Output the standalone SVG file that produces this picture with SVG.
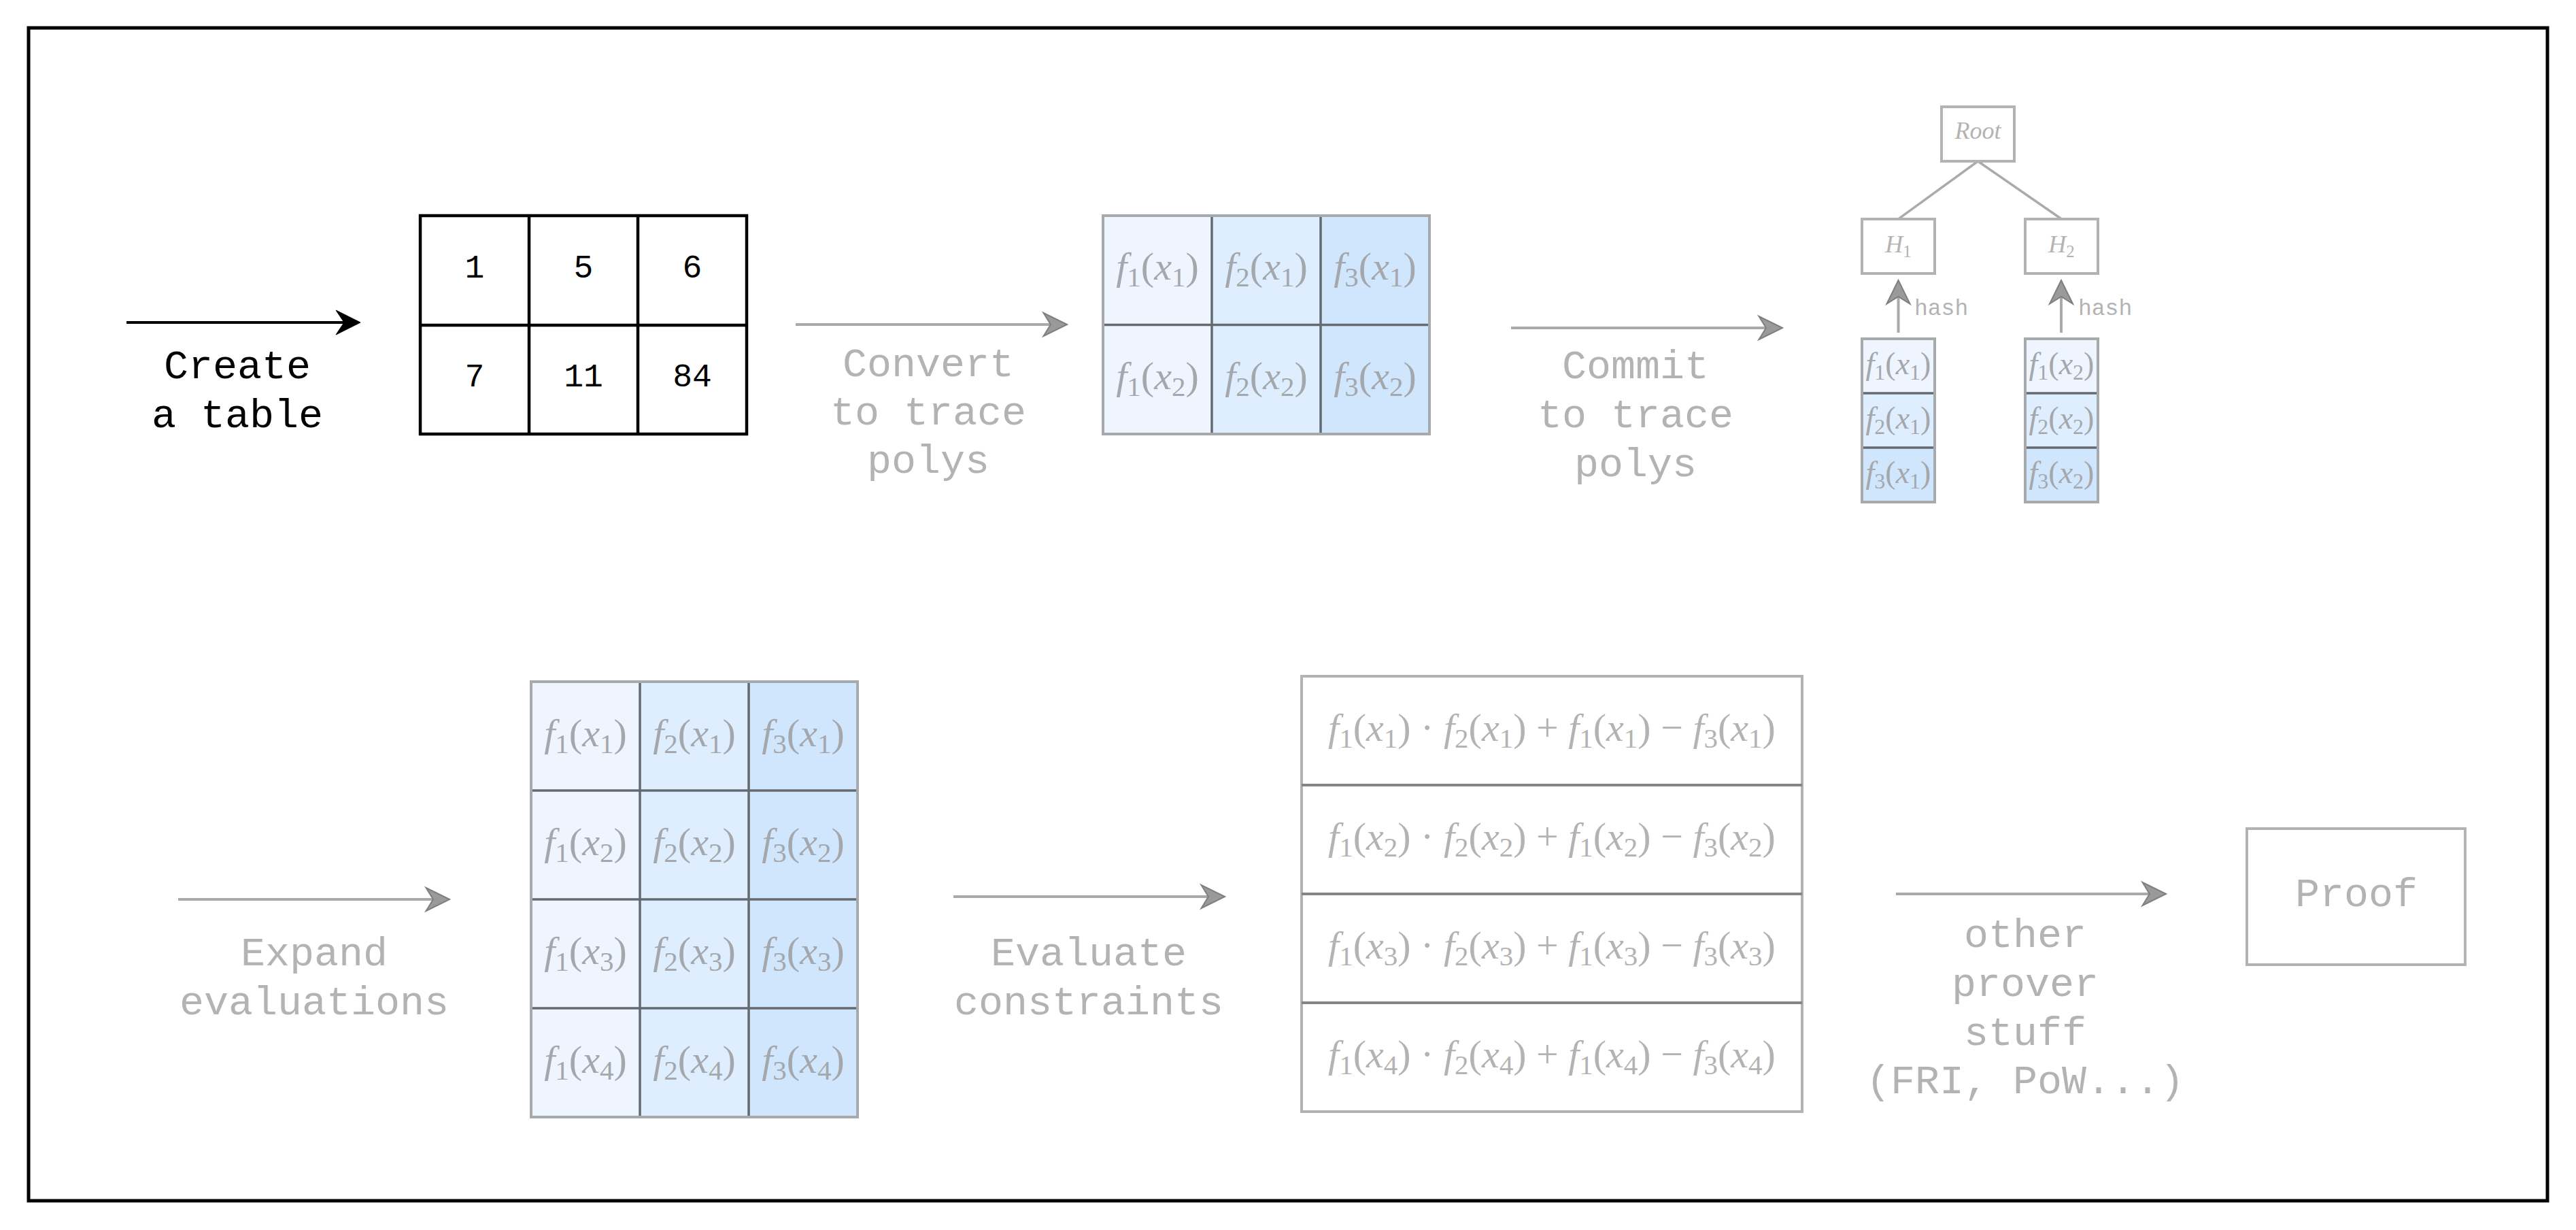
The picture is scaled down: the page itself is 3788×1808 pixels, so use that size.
<svg xmlns="http://www.w3.org/2000/svg" width="3788" height="1808" viewBox="0 0 3788 1808">
  <defs>
    <style>
      .frame { fill: none; stroke: #000; stroke-width: 5; }
      .lbl { font-family: "Liberation Mono", "Courier New", monospace; font-size: 60px; fill: #b3b3b3; text-anchor: middle; }
      .lbl.dark { fill: #000; }
      .num { font-family: "Liberation Mono", "Courier New", monospace; font-size: 48px; fill: #000; text-anchor: middle; }
      .small { font-family: "Liberation Mono", "Courier New", monospace; font-size: 33px; fill: #b3b3b3; }
      .m { font-family: "Liberation Serif", "Times New Roman", serif; font-size: 58px; fill: #a4a7ab; text-anchor: middle; }
      .m.c { fill: #b3b3b3; }
      .m.leaf { font-size: 46px; }
      .m.node { font-size: 36px; fill: #b3b3b3; }
      .i { font-style: italic; }
      .sb { font-size: 41px; }
      .leaf .sb { font-size: 32px; }
      .node .sb { font-size: 25px; }
      .blk { fill: none; stroke: #000; stroke-width: 4.5; }
      .tbl { fill: none; stroke: #a7aaad; stroke-width: 4; }
      .grid { fill: none; stroke: #646a70; stroke-width: 3.5; }
      .box { fill: #fff; stroke: #b3b3b3; stroke-width: 4; }
      .div { fill: none; stroke: #858585; stroke-width: 4; }
      .c1 { fill: #eef5ff; }
      .c2 { fill: #dfeefe; }
      .c3 { fill: #d0e6fd; }
      .edge { fill: none; stroke: #aaaaaa; stroke-width: 4; }
      .edge.dark { stroke: #000; }
      .tree { fill: none; stroke: #aaaaaa; stroke-width: 3.5; }
    </style>
    <marker id="arrow-grey" markerUnits="userSpaceOnUse" viewBox="-14 -20 42 40" markerWidth="42" markerHeight="40" refX="0" refY="0" orient="auto">
      <path d="M24,0 L-10.5,-17 L0,0 L-10.5,17 Z" fill="#9a9a9a" stroke="#7f7f7f" stroke-width="2" stroke-linejoin="miter"/>
    </marker>
    <marker id="arrow-black" markerUnits="userSpaceOnUse" viewBox="-14 -20 42 40" markerWidth="42" markerHeight="40" refX="0" refY="0" orient="auto">
      <path d="M24,0 L-12,-18 L0,0 L-12,18 Z" fill="#000" stroke="#000" stroke-width="1"/>
    </marker>
  </defs>

  <rect width="3788" height="1808" fill="#fff"/>

  <!-- outer frame -->
  <g id="frame">
    <rect class="frame" x="42" y="41" width="3704" height="1724"/>
  </g>

  <!-- connectors -->
  <g id="connectors">
    <line class="edge dark" x1="186" y1="474" x2="506" y2="474" marker-end="url(#arrow-black)"/>
    <line class="edge" x1="1170" y1="477" x2="1545" y2="477" marker-end="url(#arrow-grey)"/>
    <line class="edge" x1="2222" y1="482" x2="2597" y2="482" marker-end="url(#arrow-grey)"/>
    <line class="edge" x1="262" y1="1322" x2="637" y2="1322" marker-end="url(#arrow-grey)"/>
    <line class="edge" x1="1402" y1="1318" x2="1777" y2="1318" marker-end="url(#arrow-grey)"/>
    <line class="edge" x1="2788" y1="1314" x2="3161" y2="1314" marker-end="url(#arrow-grey)"/>
    <!-- merkle tree -->
    <line class="tree" x1="2908.5" y1="237" x2="2791.5" y2="322"/>
    <line class="tree" x1="2908.5" y1="237" x2="3031.5" y2="322"/>
    <line class="edge" x1="2791.5" y1="489" x2="2791.5" y2="436" marker-end="url(#arrow-grey)"/>
    <line class="edge" x1="3031" y1="489" x2="3031" y2="436" marker-end="url(#arrow-grey)"/>
  </g>

  <!-- step labels -->
  <g id="edge-labels">
    <text class="lbl dark" x="349" y="556">Create</text>
    <text class="lbl dark" x="349" y="628">a table</text>
    <text class="lbl" x="1365" y="553">Convert</text>
    <text class="lbl" x="1365" y="624">to trace</text>
    <text class="lbl" x="1365" y="695">polys</text>
    <text class="lbl" x="2405" y="556">Commit</text>
    <text class="lbl" x="2405" y="628">to trace</text>
    <text class="lbl" x="2405" y="700">polys</text>
    <text class="small" x="2815" y="463">hash</text>
    <text class="small" x="3056" y="463">hash</text>
    <text class="lbl" x="462" y="1419">Expand</text>
    <text class="lbl" x="462" y="1491">evaluations</text>
    <text class="lbl" x="1601" y="1419">Evaluate</text>
    <text class="lbl" x="1601" y="1491">constraints</text>
    <text class="lbl" x="2978" y="1392">other</text>
    <text class="lbl" x="2978" y="1464">prover</text>
    <text class="lbl" x="2978" y="1536">stuff</text>
    <text class="lbl" x="2978" y="1607">(FRI, PoW...)</text>
  </g>

  <!-- raw value table -->
  <g id="value-table">
    <rect class="blk" x="618" y="317" width="480" height="321"/>
    <line class="blk" x1="778" y1="317" x2="778" y2="638"/>
    <line class="blk" x1="938" y1="317" x2="938" y2="638"/>
    <line class="blk" x1="618" y1="478" x2="1098" y2="478"/>
    <text class="num" x="698" y="408">1</text>
    <text class="num" x="858" y="408">5</text>
    <text class="num" x="1018" y="408">6</text>
    <text class="num" x="698" y="568">7</text>
    <text class="num" x="858" y="568">11</text>
    <text class="num" x="1018" y="568">84</text>
  </g>

  <!-- trace polynomial table -->
  <g id="trace-table">
    <rect class="c1" x="1622" y="317" width="160" height="321"/>
    <rect class="c2" x="1782" y="317" width="160" height="321"/>
    <rect class="c3" x="1942" y="317" width="160" height="321"/>
    <line class="grid" x1="1782" y1="317" x2="1782" y2="638"/>
    <line class="grid" x1="1942" y1="317" x2="1942" y2="638"/>
    <line class="grid" x1="1622" y1="477.5" x2="2102" y2="477.5"/>
    <rect class="tbl" x="1622" y="317" width="480" height="321"/>
    <text class="m" x="1702" y="411"><tspan class="i">f</tspan><tspan class="sb" dy="10">1</tspan><tspan dy="-10">(</tspan><tspan class="i">x</tspan><tspan class="sb" dy="10">1</tspan><tspan dy="-10">)</tspan></text>
    <text class="m" x="1862" y="411"><tspan class="i">f</tspan><tspan class="sb" dy="10">2</tspan><tspan dy="-10">(</tspan><tspan class="i">x</tspan><tspan class="sb" dy="10">1</tspan><tspan dy="-10">)</tspan></text>
    <text class="m" x="2022" y="411"><tspan class="i">f</tspan><tspan class="sb" dy="10">3</tspan><tspan dy="-10">(</tspan><tspan class="i">x</tspan><tspan class="sb" dy="10">1</tspan><tspan dy="-10">)</tspan></text>
    <text class="m" x="1702" y="572"><tspan class="i">f</tspan><tspan class="sb" dy="10">1</tspan><tspan dy="-10">(</tspan><tspan class="i">x</tspan><tspan class="sb" dy="10">2</tspan><tspan dy="-10">)</tspan></text>
    <text class="m" x="1862" y="572"><tspan class="i">f</tspan><tspan class="sb" dy="10">2</tspan><tspan dy="-10">(</tspan><tspan class="i">x</tspan><tspan class="sb" dy="10">2</tspan><tspan dy="-10">)</tspan></text>
    <text class="m" x="2022" y="572"><tspan class="i">f</tspan><tspan class="sb" dy="10">3</tspan><tspan dy="-10">(</tspan><tspan class="i">x</tspan><tspan class="sb" dy="10">2</tspan><tspan dy="-10">)</tspan></text>
  </g>

  <!-- merkle root and inner hashes -->
  <g id="merkle-root">
    <rect class="box" x="2855" y="157" width="107" height="80"/>
    <text class="m node i" x="2908.5" y="204" font-size="34">Root</text>
  </g>
  <g id="hash-1">
    <rect class="box" x="2738" y="322" width="107" height="80"/>
    <text class="m node" x="2791.5" y="371"><tspan class="i">H</tspan><tspan class="sb" dy="7">1</tspan></text>
  </g>
  <g id="hash-2">
    <rect class="box" x="2978" y="322" width="107" height="80"/>
    <text class="m node" x="3031.5" y="371"><tspan class="i">H</tspan><tspan class="sb" dy="7">2</tspan></text>
  </g>

  <!-- merkle leaves: one row of the trace each -->
  <g id="leaf-1">
    <rect class="c1" x="2738" y="498" width="107" height="80"/>
    <rect class="c2" x="2738" y="578" width="107" height="80"/>
    <rect class="c3" x="2738" y="658" width="107" height="80"/>
    <line class="grid" x1="2738" y1="578" x2="2845" y2="578"/>
    <line class="grid" x1="2738" y1="658" x2="2845" y2="658"/>
    <rect class="tbl" x="2738" y="498" width="107" height="240"/>
    <text class="m leaf" x="2791.5" y="549.5"><tspan class="i">f</tspan><tspan class="sb" dy="8">1</tspan><tspan dy="-8">(</tspan><tspan class="i">x</tspan><tspan class="sb" dy="8">1</tspan><tspan dy="-8">)</tspan></text>
    <text class="m leaf" x="2791.5" y="629.5"><tspan class="i">f</tspan><tspan class="sb" dy="8">2</tspan><tspan dy="-8">(</tspan><tspan class="i">x</tspan><tspan class="sb" dy="8">1</tspan><tspan dy="-8">)</tspan></text>
    <text class="m leaf" x="2791.5" y="709.5"><tspan class="i">f</tspan><tspan class="sb" dy="8">3</tspan><tspan dy="-8">(</tspan><tspan class="i">x</tspan><tspan class="sb" dy="8">1</tspan><tspan dy="-8">)</tspan></text>
  </g>
  <g id="leaf-2">
    <rect class="c1" x="2978" y="498" width="107" height="80"/>
    <rect class="c2" x="2978" y="578" width="107" height="80"/>
    <rect class="c3" x="2978" y="658" width="107" height="80"/>
    <line class="grid" x1="2978" y1="578" x2="3085" y2="578"/>
    <line class="grid" x1="2978" y1="658" x2="3085" y2="658"/>
    <rect class="tbl" x="2978" y="498" width="107" height="240"/>
    <text class="m leaf" x="3031.5" y="549.5"><tspan class="i">f</tspan><tspan class="sb" dy="8">1</tspan><tspan dy="-8">(</tspan><tspan class="i">x</tspan><tspan class="sb" dy="8">2</tspan><tspan dy="-8">)</tspan></text>
    <text class="m leaf" x="3031.5" y="629.5"><tspan class="i">f</tspan><tspan class="sb" dy="8">2</tspan><tspan dy="-8">(</tspan><tspan class="i">x</tspan><tspan class="sb" dy="8">2</tspan><tspan dy="-8">)</tspan></text>
    <text class="m leaf" x="3031.5" y="709.5"><tspan class="i">f</tspan><tspan class="sb" dy="8">3</tspan><tspan dy="-8">(</tspan><tspan class="i">x</tspan><tspan class="sb" dy="8">2</tspan><tspan dy="-8">)</tspan></text>
  </g>

  <!-- low-degree extended evaluations -->
  <g id="extended-table">
    <rect class="c1" x="781" y="1002" width="160" height="640"/>
    <rect class="c2" x="941" y="1002" width="160" height="640"/>
    <rect class="c3" x="1101" y="1002" width="160" height="640"/>
    <line class="grid" x1="941" y1="1002" x2="941" y2="1642"/>
    <line class="grid" x1="1101" y1="1002" x2="1101" y2="1642"/>
    <line class="grid" x1="781" y1="1162" x2="1261" y2="1162"/>
    <line class="grid" x1="781" y1="1322" x2="1261" y2="1322"/>
    <line class="grid" x1="781" y1="1482" x2="1261" y2="1482"/>
    <rect class="tbl" x="781" y="1002" width="480" height="640"/>
    <text class="m" x="861" y="1096.5"><tspan class="i">f</tspan><tspan class="sb" dy="10">1</tspan><tspan dy="-10">(</tspan><tspan class="i">x</tspan><tspan class="sb" dy="10">1</tspan><tspan dy="-10">)</tspan></text>
    <text class="m" x="1021" y="1096.5"><tspan class="i">f</tspan><tspan class="sb" dy="10">2</tspan><tspan dy="-10">(</tspan><tspan class="i">x</tspan><tspan class="sb" dy="10">1</tspan><tspan dy="-10">)</tspan></text>
    <text class="m" x="1181" y="1096.5"><tspan class="i">f</tspan><tspan class="sb" dy="10">3</tspan><tspan dy="-10">(</tspan><tspan class="i">x</tspan><tspan class="sb" dy="10">1</tspan><tspan dy="-10">)</tspan></text>
    <text class="m" x="861" y="1256.5"><tspan class="i">f</tspan><tspan class="sb" dy="10">1</tspan><tspan dy="-10">(</tspan><tspan class="i">x</tspan><tspan class="sb" dy="10">2</tspan><tspan dy="-10">)</tspan></text>
    <text class="m" x="1021" y="1256.5"><tspan class="i">f</tspan><tspan class="sb" dy="10">2</tspan><tspan dy="-10">(</tspan><tspan class="i">x</tspan><tspan class="sb" dy="10">2</tspan><tspan dy="-10">)</tspan></text>
    <text class="m" x="1181" y="1256.5"><tspan class="i">f</tspan><tspan class="sb" dy="10">3</tspan><tspan dy="-10">(</tspan><tspan class="i">x</tspan><tspan class="sb" dy="10">2</tspan><tspan dy="-10">)</tspan></text>
    <text class="m" x="861" y="1416.5"><tspan class="i">f</tspan><tspan class="sb" dy="10">1</tspan><tspan dy="-10">(</tspan><tspan class="i">x</tspan><tspan class="sb" dy="10">3</tspan><tspan dy="-10">)</tspan></text>
    <text class="m" x="1021" y="1416.5"><tspan class="i">f</tspan><tspan class="sb" dy="10">2</tspan><tspan dy="-10">(</tspan><tspan class="i">x</tspan><tspan class="sb" dy="10">3</tspan><tspan dy="-10">)</tspan></text>
    <text class="m" x="1181" y="1416.5"><tspan class="i">f</tspan><tspan class="sb" dy="10">3</tspan><tspan dy="-10">(</tspan><tspan class="i">x</tspan><tspan class="sb" dy="10">3</tspan><tspan dy="-10">)</tspan></text>
    <text class="m" x="861" y="1576.5"><tspan class="i">f</tspan><tspan class="sb" dy="10">1</tspan><tspan dy="-10">(</tspan><tspan class="i">x</tspan><tspan class="sb" dy="10">4</tspan><tspan dy="-10">)</tspan></text>
    <text class="m" x="1021" y="1576.5"><tspan class="i">f</tspan><tspan class="sb" dy="10">2</tspan><tspan dy="-10">(</tspan><tspan class="i">x</tspan><tspan class="sb" dy="10">4</tspan><tspan dy="-10">)</tspan></text>
    <text class="m" x="1181" y="1576.5"><tspan class="i">f</tspan><tspan class="sb" dy="10">3</tspan><tspan dy="-10">(</tspan><tspan class="i">x</tspan><tspan class="sb" dy="10">4</tspan><tspan dy="-10">)</tspan></text>
  </g>

  <!-- constraint evaluations, one per row -->
  <g id="constraint-table">
    <rect class="box" x="1914" y="994" width="736" height="640"/>
    <line class="div" x1="1914" y1="1154" x2="2650" y2="1154"/>
    <line class="div" x1="1914" y1="1314" x2="2650" y2="1314"/>
    <line class="div" x1="1914" y1="1474" x2="2650" y2="1474"/>
    <text class="m c" x="2282" y="1088.5"><tspan class="i">f</tspan><tspan class="sb" dy="10">1</tspan><tspan dy="-10">(</tspan><tspan class="i">x</tspan><tspan class="sb" dy="10">1</tspan><tspan dy="-10">) · </tspan><tspan class="i">f</tspan><tspan class="sb" dy="10">2</tspan><tspan dy="-10">(</tspan><tspan class="i">x</tspan><tspan class="sb" dy="10">1</tspan><tspan dy="-10">) + </tspan><tspan class="i">f</tspan><tspan class="sb" dy="10">1</tspan><tspan dy="-10">(</tspan><tspan class="i">x</tspan><tspan class="sb" dy="10">1</tspan><tspan dy="-10">) − </tspan><tspan class="i">f</tspan><tspan class="sb" dy="10">3</tspan><tspan dy="-10">(</tspan><tspan class="i">x</tspan><tspan class="sb" dy="10">1</tspan><tspan dy="-10">)</tspan></text>
    <text class="m c" x="2282" y="1248.5"><tspan class="i">f</tspan><tspan class="sb" dy="10">1</tspan><tspan dy="-10">(</tspan><tspan class="i">x</tspan><tspan class="sb" dy="10">2</tspan><tspan dy="-10">) · </tspan><tspan class="i">f</tspan><tspan class="sb" dy="10">2</tspan><tspan dy="-10">(</tspan><tspan class="i">x</tspan><tspan class="sb" dy="10">2</tspan><tspan dy="-10">) + </tspan><tspan class="i">f</tspan><tspan class="sb" dy="10">1</tspan><tspan dy="-10">(</tspan><tspan class="i">x</tspan><tspan class="sb" dy="10">2</tspan><tspan dy="-10">) − </tspan><tspan class="i">f</tspan><tspan class="sb" dy="10">3</tspan><tspan dy="-10">(</tspan><tspan class="i">x</tspan><tspan class="sb" dy="10">2</tspan><tspan dy="-10">)</tspan></text>
    <text class="m c" x="2282" y="1408.5"><tspan class="i">f</tspan><tspan class="sb" dy="10">1</tspan><tspan dy="-10">(</tspan><tspan class="i">x</tspan><tspan class="sb" dy="10">3</tspan><tspan dy="-10">) · </tspan><tspan class="i">f</tspan><tspan class="sb" dy="10">2</tspan><tspan dy="-10">(</tspan><tspan class="i">x</tspan><tspan class="sb" dy="10">3</tspan><tspan dy="-10">) + </tspan><tspan class="i">f</tspan><tspan class="sb" dy="10">1</tspan><tspan dy="-10">(</tspan><tspan class="i">x</tspan><tspan class="sb" dy="10">3</tspan><tspan dy="-10">) − </tspan><tspan class="i">f</tspan><tspan class="sb" dy="10">3</tspan><tspan dy="-10">(</tspan><tspan class="i">x</tspan><tspan class="sb" dy="10">3</tspan><tspan dy="-10">)</tspan></text>
    <text class="m c" x="2282" y="1568.5"><tspan class="i">f</tspan><tspan class="sb" dy="10">1</tspan><tspan dy="-10">(</tspan><tspan class="i">x</tspan><tspan class="sb" dy="10">4</tspan><tspan dy="-10">) · </tspan><tspan class="i">f</tspan><tspan class="sb" dy="10">2</tspan><tspan dy="-10">(</tspan><tspan class="i">x</tspan><tspan class="sb" dy="10">4</tspan><tspan dy="-10">) + </tspan><tspan class="i">f</tspan><tspan class="sb" dy="10">1</tspan><tspan dy="-10">(</tspan><tspan class="i">x</tspan><tspan class="sb" dy="10">4</tspan><tspan dy="-10">) − </tspan><tspan class="i">f</tspan><tspan class="sb" dy="10">3</tspan><tspan dy="-10">(</tspan><tspan class="i">x</tspan><tspan class="sb" dy="10">4</tspan><tspan dy="-10">)</tspan></text>
  </g>

  <!-- final proof -->
  <g id="proof">
    <rect class="box" x="3304" y="1218" width="321" height="200"/>
    <text class="lbl" x="3465" y="1332" font-size="56">Proof</text>
  </g>
</svg>
